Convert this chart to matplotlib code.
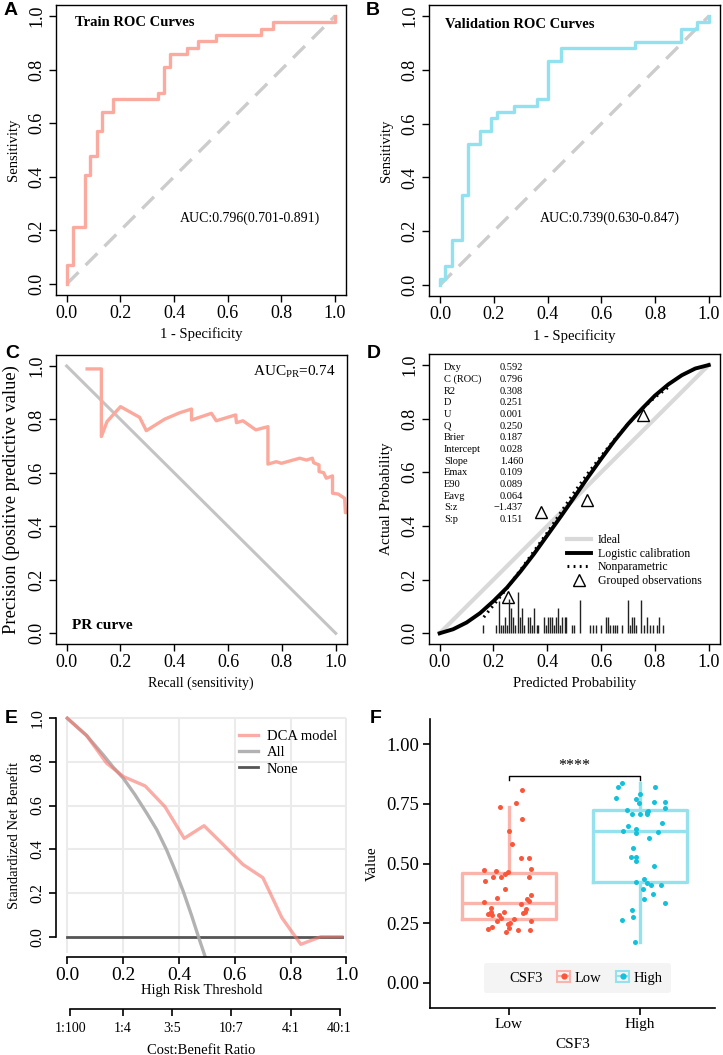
import matplotlib
matplotlib.use("Agg")
import matplotlib.pyplot as plt
from matplotlib.lines import Line2D
from matplotlib.patches import Rectangle
from matplotlib.legend_handler import HandlerTuple
from matplotlib.ticker import FormatStrFormatter

plt.rcParams['font.family'] = ['Liberation Serif', 'DejaVu Serif']
plt.rcParams['mathtext.fontset'] = 'custom'
plt.rcParams['mathtext.rm'] = 'Liberation Serif'
plt.rcParams['mathtext.it'] = 'Liberation Serif:italic'

# ---------------- data ----------------
# A: train ROC (staircase corners, vertical step first)
fpr_train = [0, 0.022, 0.068, 0.087, 0.112, 0.130, 0.171, 0.342, 0.363, 0.385,
             0.447, 0.491, 0.557, 0.724, 0.768, 1.0, 1.0]
tpr_train = [0, 0.071, 0.214, 0.405, 0.476, 0.571, 0.643, 0.690, 0.714, 0.810,
             0.857, 0.881, 0.905, 0.929, 0.952, 0.976, 1.0]
# B: validation ROC
fpr_valid = [0, 0.019, 0.043, 0.083, 0.105, 0.147, 0.188, 0.211, 0.275, 0.362,
             0.403, 0.449, 0.725, 0.895, 0.954, 1.0, 1.0]
tpr_valid = [0, 0.024, 0.071, 0.167, 0.333, 0.524, 0.571, 0.619, 0.643, 0.667,
             0.690, 0.833, 0.881, 0.905, 0.952, 0.976, 1.0]

# C: PR curve
recall = [0.076, 0.129, 0.129, 0.150, 0.200, 0.271, 0.296, 0.364, 0.420, 0.464,
          0.464, 0.538, 0.556, 0.628, 0.631, 0.655, 0.703, 0.748, 0.748, 0.779,
          0.798, 0.866, 0.891, 0.913, 0.918, 0.938, 0.938, 0.955, 0.965, 0.988,
          0.988, 1.009, 1.033, 1.036, 1.06]
precision = [0.989, 0.989, 0.736, 0.792, 0.848, 0.808, 0.758, 0.801, 0.825, 0.839,
             0.798, 0.823, 0.795, 0.817, 0.788, 0.795, 0.761, 0.773, 0.633, 0.642,
             0.636, 0.655, 0.648, 0.655, 0.638, 0.630, 0.605, 0.601, 0.580, 0.589,
             0.524, 0.521, 0.505, 0.451, 0.46]

# D: calibration
pred_grid = [0, 0.05, 0.1, 0.15, 0.2, 0.25, 0.3, 0.35, 0.4, 0.45, 0.5,
             0.55, 0.6, 0.65, 0.7, 0.75, 0.8, 0.85, 0.9, 0.95, 1.0]
logistic_cal = [0, 0.015, 0.04, 0.075, 0.12, 0.17, 0.23, 0.295, 0.365, 0.435, 0.507,
                0.58, 0.65, 0.718, 0.78, 0.835, 0.886, 0.928, 0.962, 0.987, 1.0]
nonpar_x = [0.164, 0.2, 0.25, 0.3, 0.35, 0.4, 0.45, 0.5, 0.55, 0.6, 0.65, 0.7, 0.75, 0.8, 0.86]
nonpar_y = [0.06, 0.105, 0.168, 0.235, 0.305, 0.375, 0.45, 0.525, 0.595, 0.66, 0.722, 0.78, 0.835, 0.88, 0.925]
group_x = [0.255, 0.375, 0.549, 0.754]
group_y = [0.137, 0.451, 0.497, 0.814]
rug_x = [0.160, 0.209, 0.219, 0.227, 0.234, 0.242, 0.249, 0.259, 0.266, 0.274,
         0.281, 0.290, 0.299, 0.307, 0.313, 0.330, 0.337, 0.344, 0.352, 0.361,
         0.367, 0.388, 0.394, 0.401, 0.410, 0.416, 0.424, 0.432, 0.441, 0.447,
         0.456, 0.464, 0.470, 0.491, 0.499, 0.522, 0.559, 0.571, 0.581, 0.598,
         0.618, 0.624, 0.633, 0.643, 0.652, 0.659, 0.676, 0.700, 0.707, 0.715,
         0.722, 0.730, 0.748, 0.759, 0.769, 0.782, 0.792, 0.807, 0.817, 0.829]
rug_h = [0.032, 0.032, 0.119, 0.032, 0.032, 0.062, 0.032, 0.128, 0.094, 0.062,
         0.032, 0.153, 0.062, 0.094, 0.032, 0.062, 0.062, 0.032, 0.094, 0.032,
         0.032, 0.062, 0.032, 0.062, 0.062, 0.062, 0.032, 0.062, 0.094, 0.032,
         0.062, 0.062, 0.062, 0.032, 0.032, 0.125, 0.032, 0.032, 0.032, 0.032,
         0.062, 0.062, 0.032, 0.032, 0.032, 0.032, 0.032, 0.125, 0.032, 0.062,
         0.062, 0.032, 0.125, 0.032, 0.062, 0.032, 0.032, 0.032, 0.062, 0.032]
stat_names = ['Dxy', 'C (ROC)', 'R2', 'D', 'U', 'Q', 'Brier', 'Intercept', 'Slope',
              'Emax', 'E90', 'Eavg', 'S:z', 'S:p']
stat_values = ['0.592', '0.796', '0.308', '0.251', '0.001', '0.250', '0.187', '0.028',
               '1.460', '0.109', '0.089', '0.064', '\u22121.437', '0.151']

# E: decision curve
dca_thr = [0, 0.069, 0.141, 0.201, 0.279, 0.350, 0.419, 0.490, 0.560, 0.629,
           0.701, 0.769, 0.837, 0.909, 0.984]
dca_nb = [1.0, 0.921, 0.794, 0.733, 0.690, 0.595, 0.450, 0.508, 0.420, 0.331,
          0.270, 0.087, -0.035, 0.0, 0.0]
all_thr = [0, 0.069, 0.129, 0.165, 0.201, 0.243, 0.285, 0.321, 0.356, 0.386,
           0.416, 0.446, 0.470, 0.495]
all_nb = [1.0, 0.921, 0.832, 0.775, 0.725, 0.649, 0.565, 0.489, 0.397, 0.305,
          0.206, 0.095, 0.0, -0.095]
none_thr = [0, 0.984]
none_nb = [0, 0]
cb_thr = [0.0099, 0.2, 0.375, 0.588, 0.8, 0.976]
cb_labels = ['1:100', '1:4', '3:5', '10:7', '4:1', '40:1']

# F: CSF3 groups
groups = ['Low', 'High']
low_vals = [0.808, 0.754, 0.738, 0.687, 0.637, 0.583, 0.524, 0.523, 0.473, 0.467,
            0.466, 0.476, 0.455, 0.444, 0.442, 0.442, 0.427, 0.395, 0.368, 0.357,
            0.353, 0.343, 0.340, 0.331, 0.311, 0.314, 0.298, 0.294, 0.298, 0.298,
            0.289, 0.285, 0.286, 0.271, 0.266, 0.259, 0.258, 0.250, 0.247, 0.236,
            0.226, 0.229, 0.223, 0.222, 0.215]
low_jit = [0.10, 0.05, -0.07, 0.10, 0.0, 0.02, 0.09, 0.15, -0.19, -0.10,
           -0.01, 0.17, -0.03, -0.06, -0.12, 0.15, -0.18, -0.03, 0.17, -0.09,
           0.14, 0.15, -0.19, 0.09, 0.13, -0.14, 0.12, 0.11, -0.04, -0.14,
           -0.16, -0.13, -0.08, -0.06, 0.04, 0.17, -0.09, 0.01, -0.01, -0.13,
           -0.16, 0.0, 0.07, 0.16, -0.02]
high_vals = [0.836, 0.821, 0.821, 0.774, 0.789, 0.771, 0.754, 0.759, 0.759, 0.731,
             0.724, 0.721, 0.706, 0.706, 0.707, 0.714, 0.657, 0.668, 0.644, 0.637,
             0.629, 0.630, 0.607, 0.565, 0.527, 0.527, 0.509, 0.491, 0.424, 0.434,
             0.417, 0.409, 0.411, 0.392, 0.374, 0.351, 0.333, 0.305, 0.277, 0.262, 0.170]
high_jit = [-0.135, -0.17, 0.115, -0.18, 0.0, -0.03, -0.01, 0.11, 0.19, 0.19,
            -0.10, 0.06, -0.06, 0.0, 0.05, 0.05, -0.09, 0.17, -0.03, -0.13,
            -0.03, 0.14, 0.07, -0.05, -0.07, -0.03, -0.03, 0.11, -0.03, 0.03,
            0.05, 0.08, 0.16, 0.02, 0.10, 0.03, 0.19, -0.06, -0.05, -0.14, -0.04]
box_low = dict(q1=0.266, med=0.333, q3=0.462, whislo=0.266, whishi=0.738)
box_high = dict(q1=0.424, med=0.635, q3=0.724, whislo=0.170, whishi=0.836)

# ---------------- figure ----------------
W, H = 723, 1055
fig = plt.figure(figsize=(W / 100, H / 100), dpi=100)


def px_axes(left, top, right, bottom):
    return fig.add_axes([left / W, 1 - bottom / H, (right - left) / W, (bottom - top) / H])


def r_axes(ax, xlabel, ylabel, tick_fs=13, lab_fs=10.5):
    ticks = [0, 0.2, 0.4, 0.6, 0.8, 1.0]
    ax.set_xlim(-0.04, 1.04)
    ax.set_ylim(-0.04, 1.04)
    ax.set_xticks(ticks)
    ax.set_yticks(ticks)
    ax.xaxis.set_major_formatter(FormatStrFormatter('%.1f'))
    ax.yaxis.set_major_formatter(FormatStrFormatter('%.1f'))
    ax.tick_params(direction='out', length=5, width=1, labelsize=tick_fs, pad=2.5)
    ax.tick_params(axis='y', labelrotation=90)
    for lab in ax.get_yticklabels():
        lab.set_va('center')
    for s in ax.spines.values():
        s.set_linewidth(1.0)
    ax.set_xlabel(xlabel, fontsize=lab_fs, labelpad=4)
    ax.set_ylabel(ylabel, fontsize=lab_fs, labelpad=6)


def letter(x, y, s):
    fig.text(x / W, 1 - y / H, s, fontsize=14, fontweight='bold',
             family='Liberation Sans', va='top', ha='left')


# A
axA = px_axes(56.0, 5.3, 345.7, 294.7)
axA.plot([0, 1], [0, 1], color='#CCCCCC', lw=2.4, ls=(0, (5, 3)))
axA.plot(fpr_train, tpr_train, color='#FBAA9F', lw=2.4, drawstyle='steps-pre')
axA.text(0.03, 0.975, 'Train ROC Curves', fontsize=10.5, fontweight='bold', va='center')
axA.text(0.42, 0.246, 'AUC:0.796(0.701-0.891)', fontsize=10, va='center')
r_axes(axA, '1 - Specificity', 'Sensitivity')

# B
axB = px_axes(429.2, 5.2, 719.8, 295.8)
axB.plot([0, 1], [0, 1], color='#CCCCCC', lw=2.4, ls=(0, (5, 3)))
axB.plot(fpr_valid, tpr_valid, color='#92E1EE', lw=2.4, drawstyle='steps-pre')
axB.text(0.02, 0.97, 'Validation ROC Curves', fontsize=10.5, fontweight='bold', va='center')
axB.text(0.37, 0.25, 'AUC:0.739(0.630-0.847)', fontsize=10, va='center')
r_axes(axB, '1 - Specificity', 'Sensitivity')

# C
axC = px_axes(55.9, 355.3, 346.5, 644.0)
axC.plot([0, 1], [1, 0], color='#C4C4C4', lw=2.2)
axC.plot(recall, precision, color='#FBA99C', lw=2.4)
axC.text(1.0, 0.977, r'AUC$_{\mathrm{PR}}$=0.74', fontsize=11, ha='right', va='center')
axC.text(0.02, 0.03, 'PR curve', fontsize=11, fontweight='bold', va='center')
r_axes(axC, 'Recall (sensitivity)', 'Precision (positive predictive value)', lab_fs=10)
axC.yaxis.label.set_size(13.3)

# D
axD = px_axes(428.9, 354.3, 719.5, 644.0)
axD.plot([0, 1], [0, 1], color='#D9D9D9', lw=3)
axD.plot(pred_grid, logistic_cal, color='black', lw=2.8)
axD.plot(nonpar_x, nonpar_y, color='black', lw=2.2, ls=(0, (0.6, 1.4)))
axD.plot(group_x, group_y, ls='none', marker='^', ms=8, mfc='white', mec='black', mew=1)
axD.vlines(rug_x, 0, rug_h, color='#222222', lw=1)
for i, (nm, val) in enumerate(zip(stat_names, stat_values)):
    yy = 0.989 - i * 0.0434
    axD.text(0.016, yy, nm, fontsize=7.5, va='center', ha='left')
    axD.text(0.31, yy, val, fontsize=7.5, va='center', ha='right')
d_handles = [Line2D([], [], color='#D9D9D9', lw=3),
             Line2D([], [], color='black', lw=2.8),
             Line2D([], [], color='black', lw=2.2, ls=(0, (0.6, 1.4))),
             Line2D([], [], ls='none', marker='^', ms=8, mfc='white', mec='black', mew=1)]
axD.legend(d_handles, ['Ideal', 'Logistic calibration', 'Nonparametric', 'Grouped observations'],
           loc='upper left', bbox_to_anchor=(0.475, 0.38), frameon=False, fontsize=8.5,
           handlelength=2.0, handletextpad=0.6, labelspacing=0.15, borderpad=0, borderaxespad=0)
r_axes(axD, 'Predicted Probability', 'Actual Probability')
axD.yaxis.label.set_size(11)

# E
axE = px_axes(56, 713, 347, 957)
axE.set_xlim(-0.0405, 1.0025)
axE.set_ylim(-0.093, 1.024)
e_ticks = [0, 0.2, 0.4, 0.6, 0.8, 1.0]
axE.hlines(e_ticks[1:], 0, 1, color='#EBEBEB', lw=1.5, zorder=0)
axE.vlines(e_ticks, -0.075, 1.003, color='#EBEBEB', lw=1.5, zorder=0)
axE.plot(none_thr, none_nb, color='#555555', lw=2, label='None')
axE.plot(all_thr, all_nb, color='#AAAAAA', lw=2.4, alpha=0.9, label='All')
axE.plot(dca_thr, dca_nb, color='#F8766D', lw=2.4, alpha=0.6, label='DCA model')
hE, lE = axE.get_legend_handles_labels()
axE.legend(hE[::-1], lE[::-1], loc='upper left', bbox_to_anchor=(0.629, 0.93), frameon=False,
           fontsize=10.5, handlelength=1.3, handletextpad=0.6, labelspacing=0.2,
           borderpad=0, borderaxespad=0)
axE.set_xticks(e_ticks)
axE.set_yticks(e_ticks)
axE.xaxis.set_major_formatter(FormatStrFormatter('%.1f'))
axE.yaxis.set_major_formatter(FormatStrFormatter('%.1f'))
axE.spines['top'].set_visible(False)
axE.spines['right'].set_visible(False)
axE.spines['left'].set_bounds(0, 1)
axE.spines['bottom'].set_bounds(0, 1)
for s in ('left', 'bottom'):
    axE.spines[s].set_linewidth(1.2)
axE.tick_params(direction='out', length=5, width=1.2, pad=2.5)
axE.tick_params(axis='x', labelsize=14)
axE.tick_params(axis='y', labelsize=11.5, labelrotation=90)
for lab in axE.get_yticklabels():
    lab.set_va('center')
axE.set_xlabel('High Risk Threshold', fontsize=10.5, labelpad=0)
axE.set_ylabel('Standardized Net Benefit', fontsize=10.5, labelpad=6)

axE2 = px_axes(56, 1007.5, 347, 1008.5)
axE2.set_xlim(-0.0405, 1.0025)
axE2.set_yticks([])
for s in ('top', 'left', 'right'):
    axE2.spines[s].set_visible(False)
axE2.spines['bottom'].set_bounds(cb_thr[0], cb_thr[-1])
axE2.spines['bottom'].set_linewidth(1.2)
axE2.set_xticks(cb_thr)
axE2.set_xticklabels(cb_labels)
axE2.tick_params(axis='x', direction='out', length=5, width=1.2, labelsize=10, pad=5)
axE2.set_xlabel('Cost:Benefit Ratio', fontsize=10.5, labelpad=6)
axE2.patch.set_visible(False)

# F
axF = px_axes(430, 719, 715, 1008)
axF.set_xlim(-0.603, 1.572)
axF.set_ylim(-0.105, 1.105)
low_col, high_col = '#F9573C', '#14C1DA'
low_box, high_box = '#FBB4AB', '#95E2EE'
for pos, st, col in ((0, box_low, low_box), (1, box_high, high_box)):
    axF.bxp([dict(st, fliers=[])], positions=[pos], widths=0.72, showcaps=False,
            showfliers=False, patch_artist=False,
            boxprops=dict(color=col, lw=2.4), whiskerprops=dict(color=col, lw=2.4),
            medianprops=dict(color=col, lw=2.4))
axF.scatter([0 + j for j in low_jit], low_vals, s=13, color=low_col, zorder=3, linewidths=0)
axF.scatter([1 + j for j in high_jit], high_vals, s=13, color=high_col, zorder=3, linewidths=0)
axF.plot([0, 0, 1, 1], [0.85, 0.866, 0.866, 0.85], color='black', lw=1)
axF.text(0.5, 0.875, '****', ha='center', va='bottom', fontsize=11.5)
axF.set_xticks([0, 1])
axF.set_xticklabels(groups)
axF.set_yticks([0, 0.25, 0.5, 0.75, 1.0])
axF.yaxis.set_major_formatter(FormatStrFormatter('%.2f'))
axF.spines['top'].set_visible(False)
axF.spines['right'].set_visible(False)
for s in ('left', 'bottom'):
    axF.spines[s].set_linewidth(1.2)
axF.tick_params(direction='out', length=5, width=1.2, pad=2.5)
axF.tick_params(axis='y', labelsize=13.5)
axF.tick_params(axis='x', labelsize=11)
axF.set_xlabel('CSF3', fontsize=11, labelpad=5)
axF.set_ylabel('Value', fontsize=11, labelpad=6)
blank = Line2D([], [], ls='none')
h_low = (Rectangle((0, 0), 1, 1, fc='none', ec=low_box, lw=1.5),
         Line2D([], [], color=low_box, lw=1.5, marker='o', ms=3.5, mfc=low_col, mec=low_col))
h_high = (Rectangle((0, 0), 1, 1, fc='none', ec=high_box, lw=1.5),
          Line2D([], [], color=high_box, lw=1.5, marker='o', ms=3.5, mfc=high_col, mec=high_col))
legF = axF.legend([blank, h_low, h_high], ['CSF3', 'Low', 'High'], ncol=3,
                  handler_map={tuple: HandlerTuple(ndivide=1)},
                  loc='center', bbox_to_anchor=(0.516, 0.104), fontsize=10.5,
                  handlelength=0.9, handletextpad=0.3, columnspacing=1.0,
                  frameon=True, fancybox=True, borderpad=0.55)
legF.get_frame().set_facecolor('#F2F2F2')
legF.get_frame().set_edgecolor('none')

letter(4, 2, 'A')
letter(366, 2, 'B')
letter(5, 345, 'C')
letter(367, 345, 'D')
letter(5, 710, 'E')
letter(370, 710, 'F')

fig.savefig('out.png', dpi=100)
